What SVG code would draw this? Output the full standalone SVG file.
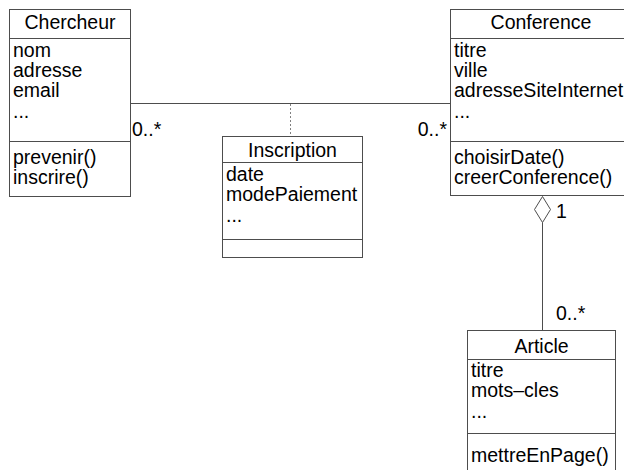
<svg xmlns="http://www.w3.org/2000/svg" width="624" height="470" viewBox="0 0 624 470">
  <style>
    .box { fill: #ffffff; stroke: #4d4d4d; stroke-width: 1; }
    .sep { stroke: #4d4d4d; stroke-width: 1; }
    .t { font-family: "Liberation Sans", Arial, sans-serif; font-size: 19.5px; fill: #000000; }
    .title { text-anchor: middle; }
    .edge { fill: none; stroke: #4d4d4d; stroke-width: 1; }
    .dot { fill: none; stroke: #808080; stroke-width: 1; stroke-dasharray: 2 2; }
  </style>
  <rect width="624" height="470" fill="#ffffff"/>

  <g id="connectors">
    <line class="edge" x1="130.5" y1="103.5" x2="450.5" y2="103.5"/>
    <line class="dot" x1="290.5" y1="104" x2="290.5" y2="136"/>
    <polygon class="edge" fill="#ffffff" points="542.5,196.5 550.5,209.5 542.5,222.5 534.5,209.5"/>
    <line class="edge" x1="542.5" y1="222.5" x2="542.5" y2="330.5"/>
    <text class="t" x="132" y="136">0..*</text>
    <text class="t" x="447" y="136" text-anchor="end">0..*</text>
    <text class="t" x="556" y="218">1</text>
    <text class="t" x="556" y="320">0..*</text>
  </g>

  <g id="Chercheur">
    <rect class="box" x="9.5" y="9.5" width="121" height="187"/>
    <line class="sep" x1="9.5" y1="38.5" x2="130.5" y2="38.5"/>
    <line class="sep" x1="9.5" y1="141.5" x2="130.5" y2="141.5"/>
    <text class="t title" x="70" y="29">Chercheur</text>
    <text class="t" x="13" y="57">nom</text>
    <text class="t" x="13" y="77">adresse</text>
    <text class="t" x="13" y="97">email</text>
    <text class="t" x="13" y="118">...</text>
    <text class="t" x="13" y="164">prevenir()</text>
    <text class="t" x="13" y="184">inscrire()</text>
  </g>

  <g id="Conference">
    <rect class="box" x="450.5" y="9.5" width="185" height="186"/>
    <line class="sep" x1="450.5" y1="38.5" x2="635.5" y2="38.5"/>
    <line class="sep" x1="450.5" y1="141.5" x2="635.5" y2="141.5"/>
    <text class="t title" x="541" y="29">Conference</text>
    <text class="t" x="454" y="57">titre</text>
    <text class="t" x="454" y="77">ville</text>
    <text class="t" x="454" y="97">adresseSiteInternet</text>
    <text class="t" x="454" y="118">...</text>
    <text class="t" x="454" y="164">choisirDate()</text>
    <text class="t" x="454" y="184">creerConference()</text>
  </g>

  <g id="Inscription">
    <rect class="box" x="222.5" y="136.5" width="140" height="121"/>
    <line class="sep" x1="222.5" y1="162.5" x2="362.5" y2="162.5"/>
    <line class="sep" x1="222.5" y1="239.5" x2="362.5" y2="239.5"/>
    <text class="t title" x="292.5" y="157">Inscription</text>
    <text class="t" x="226" y="181">date</text>
    <text class="t" x="226" y="201">modePaiement</text>
    <text class="t" x="226" y="222">...</text>
  </g>

  <g id="Article">
    <rect class="box" x="467.5" y="330.5" width="148" height="150"/>
    <line class="sep" x1="467.5" y1="359.5" x2="615.5" y2="359.5"/>
    <line class="sep" x1="467.5" y1="433.5" x2="615.5" y2="433.5"/>
    <text class="t title" x="541.5" y="353">Article</text>
    <text class="t" x="471" y="377">titre</text>
    <text class="t" x="471" y="397">mots&#8211;cles</text>
    <text class="t" x="471" y="418">...</text>
    <text class="t" x="471" y="462">mettreEnPage()</text>
  </g>
</svg>
